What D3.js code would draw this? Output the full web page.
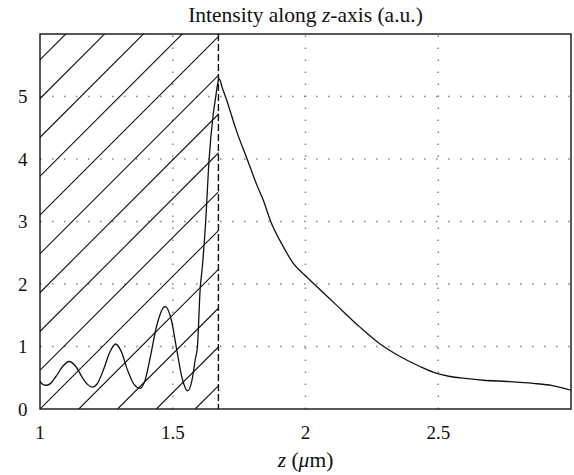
<!DOCTYPE html>
<html>
<head>
<meta charset="utf-8">
<script src="https://cdn.jsdelivr.net/npm/d3@7/dist/d3.min.js"></script>
<style>
  html, body { margin: 0; padding: 0; background: #fff; }
  svg { display: block; }
</style>
</head>
<body>
<svg id="chart" width="574" height="475"></svg>
<script>
// ---- data ----
const zValues = [1.00, 1.012, 1.025, 1.04, 1.06, 1.085, 1.11, 1.135, 1.16, 1.18, 1.197, 1.215, 1.24, 1.262, 1.285,
  1.305, 1.33, 1.355, 1.377, 1.395, 1.415, 1.44, 1.471, 1.495, 1.515, 1.535, 1.556, 1.572, 1.585, 1.593,
  1.603, 1.612, 1.624, 1.637, 1.652, 1.662, 1.670, 1.675, 1.688, 1.700, 1.74, 1.78, 1.82, 1.841, 1.869,
  1.916, 1.954, 1.998, 2.042, 2.105, 2.205, 2.281, 2.356, 2.431, 2.494, 2.544, 2.60, 2.67, 2.76, 2.858, 2.93, 3.0];
const intensity = [0.44, 0.39, 0.38, 0.41, 0.52, 0.68, 0.76, 0.68, 0.50, 0.39, 0.35, 0.40, 0.64, 0.90, 1.04,
  0.93, 0.62, 0.39, 0.33, 0.45, 0.82, 1.34, 1.64, 1.42, 0.95, 0.50, 0.29, 0.45, 0.80, 1.0,
  1.9, 2.3, 3.0, 4.0, 4.7, 5.0, 5.22, 5.28, 5.12, 4.98, 4.45, 4.0, 3.55, 3.34, 3.0,
  2.60, 2.33, 2.14, 1.96, 1.71, 1.31, 1.04, 0.84, 0.68, 0.57, 0.52, 0.49, 0.46, 0.44, 0.41, 0.375, 0.30];
const xTicks = [1, 1.5, 2, 2.5];
const xTickLabels = ["1", "1.5", "2", "2.5"];
const yTicks = [0, 1, 2, 3, 4, 5];
const yTickLabels = ["0", "1", "2", "3", "4", "5"];
const xGrid = [1.5, 2, 2.5];
const yGrid = [1, 2, 3, 4, 5];
const boundaryZ = [1.672];     // dashed interface line / end of hatched region
const xDomain = [1, 3];
const yDomain = [0, 6];
const titleParts = ["Intensity along ", "z", "-axis (a.u.)"];
const xLabelParts = ["z", " (", "μ", "m)"];

const FONT = "'Liberation Serif', 'Times New Roman', 'DejaVu Serif', serif";

// ---- layout ----
const svg = d3.select("#chart");
const L = 40, R = 571, T = 34, B = 409;
const x = d3.scaleLinear().domain(xDomain).range([L, R]);
const y = d3.scaleLinear().domain(yDomain).range([B, T]);

// grid
const gridG = svg.append("g");
gridG.selectAll("line.gx").data(xGrid).join("line")
  .attr("x1", d => x(d)).attr("x2", d => x(d)).attr("y1", B).attr("y2", T)
  .attr("stroke", "#888").attr("stroke-width", 1.6).attr("stroke-dasharray", "1.6,10.4");
gridG.selectAll("line.gy").data(yGrid).join("line")
  .attr("x1", L).attr("x2", R).attr("y1", d => y(d)).attr("y2", d => y(d))
  .attr("stroke", "#888").attr("stroke-width", 1.6).attr("stroke-dasharray", "1.6,10.4");

// hatched region
const hx0 = x(xDomain[0]), hx1 = x(boundaryZ[0]);
svg.append("clipPath").attr("id", "hclip").append("rect")
  .attr("x", hx0).attr("y", T).attr("width", hx1 - hx0).attr("height", B - T);
const spacing = 38.8;
const ks = d3.range(-12, 6);
svg.append("g").attr("clip-path", "url(#hclip)")
  .selectAll("line").data(ks).join("line")
  .attr("x1", k => hx0 + k * spacing).attr("y1", B)
  .attr("x2", k => hx0 + k * spacing + 600).attr("y2", B - 600)
  .attr("stroke", "#111").attr("stroke-width", 1.1);

// dashed boundary
svg.selectAll("line.bd").data(boundaryZ).join("line")
  .attr("x1", d => x(d)).attr("x2", d => x(d)).attr("y1", T).attr("y2", B)
  .attr("stroke", "#111").attr("stroke-width", 1.4).attr("stroke-dasharray", "7,3");

// curve
const pts = zValues.map((z, i) => [z, intensity[i]]);
svg.append("path").datum(pts)
  .attr("fill", "none").attr("stroke", "#111").attr("stroke-width", 1.3)
  .attr("d", d3.line().x(d => x(d[0])).y(d => y(d[1])).curve(d3.curveMonotoneX));

// frame
svg.append("rect").attr("x", L).attr("y", T).attr("width", R - L).attr("height", B - T)
  .attr("fill", "none").attr("stroke", "#111").attr("stroke-width", 1.4);

// tick labels
svg.selectAll("text.xt").data(xTicks).join("text")
  .attr("font-family", FONT).attr("fill", "#111")
  .attr("x", d => x(d)).attr("y", 439).attr("text-anchor", "middle")
  .attr("font-size", 19).text((d, i) => xTickLabels[i]);
svg.selectAll("text.yt").data(yTicks).join("text")
  .attr("font-family", FONT).attr("fill", "#111")
  .attr("x", 27.5).attr("y", d => y(d) + 6.5).attr("text-anchor", "end")
  .attr("font-size", 19).text((d, i) => yTickLabels[i]);

// title
const title = svg.append("text").attr("x", (L + R) / 2).attr("y", 22)
  .attr("font-family", FONT).attr("fill", "#111")
  .attr("text-anchor", "middle").attr("font-size", 21.5);
titleParts.forEach((p, i) => {
  title.append("tspan").attr("font-style", i === 1 ? "italic" : "normal").text(p);
});

// x label
const xl = svg.append("text").attr("x", (L + R) / 2).attr("y", 467)
  .attr("font-family", FONT).attr("fill", "#111")
  .attr("text-anchor", "middle").attr("font-size", 21.5);
xLabelParts.forEach((p, i) => {
  xl.append("tspan").attr("font-style", (i === 0 || i === 2) ? "italic" : "normal").text(p);
});
</script>
</body>
</html>
